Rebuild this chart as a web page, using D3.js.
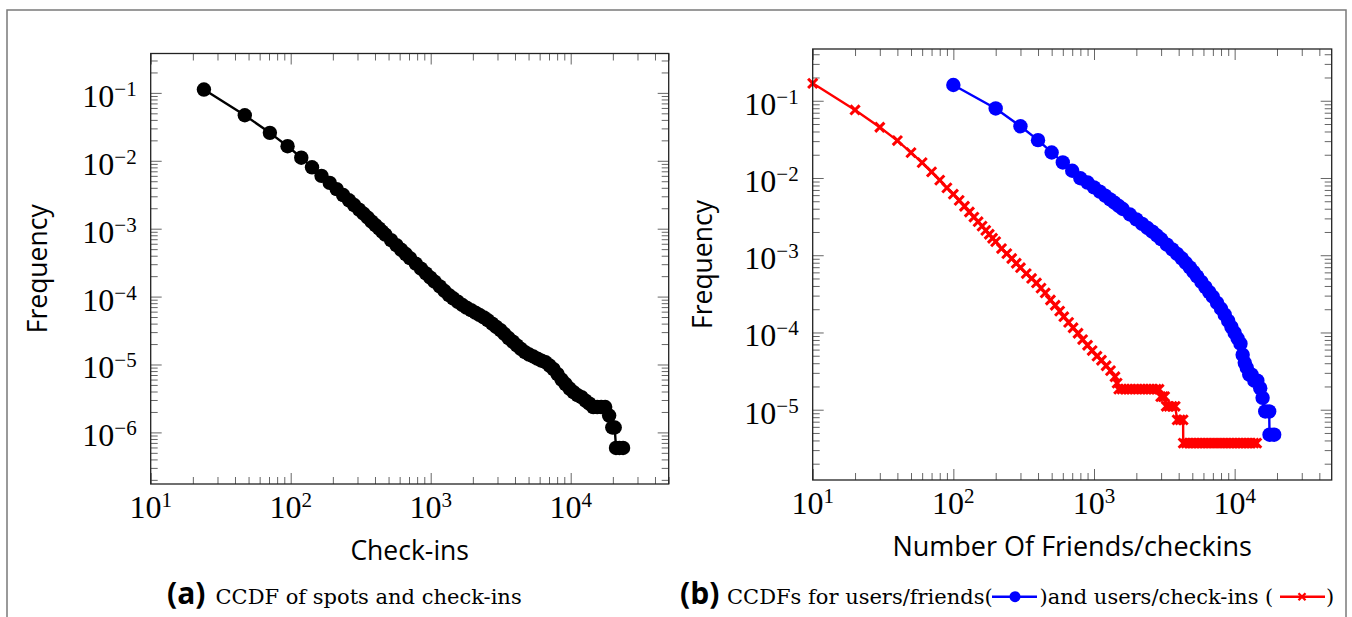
<!DOCTYPE html>
<html>
<head>
<meta charset="utf-8">
<script src="https://cdn.jsdelivr.net/npm/d3@7"></script>
<style>
  html, body { margin: 0; padding: 0; background: #fff; }
  svg { display: block; }
</style>
</head>
<body>
<svg id="fig" width="1352" height="617"></svg>
<script>
// ---- (a) CCDF of spots and check-ins ----
const spotCheckins = [24,47,71,95,119,142,166,190,213,237,261,284,308,332,356,379,403,427,450,474,
  521,569,616,664,711,782,853,924,995,1067,1161,1256,1351,1446,1564,1683,1801,1943,2086,2228,
  2394,2560,2749,2939,3152,3365,3602,3863,4124,4408,4716,5048,5404,5783,6186,6612,7063,7537,8058,8603,
  9196,9812,10475,11186,11945,12751,13604,14504,15476,16519,17633,18818,19813,20619,21069,22278,23653];
const spotFreq = [0.112,0.0468,0.0258,0.0164,0.0111,0.00802,0.0060,0.00473,0.00383,0.00313,
  0.00262,0.00223,0.00191,0.00166,0.00145,0.00127,0.00113,0.00101,0.000906,0.000818,
  0.000679,0.000573,0.000489,0.000423,0.000369,0.000306,0.000258,0.000220,0.000190,0.000166,
  0.000141,0.000121,0.000105,9.44e-5,8.38e-5,7.52e-5,6.89e-5,6.32e-5,5.81e-5,5.37e-5,
  4.94e-5,4.48e-5,4.00e-5,3.58e-5,3.20e-5,2.81e-5,2.45e-5,2.17e-5,1.91e-5,1.70e-5,
  1.52e-5,1.40e-5,1.31e-5,1.22e-5,1.14e-5,1.08e-5,9.64e-6,8.55e-6,7.22e-6,6.00e-6,
  5.15e-6,4.42e-6,3.92e-6,3.54e-6,3.31e-6,2.94e-6,2.65e-6,2.36e-6,2.36e-6,2.36e-6,2.36e-6,
  1.77e-6,1.18e-6,1.18e-6,5.9e-7,5.9e-7,5.9e-7];

// ---- (b) users/friends ----
const friendCount = [100,200,300,400,500,600,700,800,900,1000,1100,1200,1300,1400,1500,1600,
  1800,2000,2200,2400,2600,2800,3000,3300,3600,3900,4200,4500,4800,5100,5400,5800,6200,6600,7000,
  7500,8000,8500,9000,9500,10000,10500,11000,11400,11800,12200,12700,13200,13800,14500,15200,
  15800,16500,17600,17700,19100];
const friendFreq = [0.160,0.0795,0.0468,0.0309,0.0214,0.0159,0.0124,0.00993,0.00873,0.00755,
  0.00667,0.00592,0.00528,0.00478,0.00434,0.00397,0.00337,0.00291,0.00255,0.00225,0.00202,0.00180,
  0.00161,0.00137,0.00119,0.00104,0.000912,0.000793,0.000695,0.000608,0.000532,0.000452,0.000386,
  0.000333,0.000290,0.000241,0.000203,0.000170,0.000141,0.000117,9.86e-5,8.36e-5,7.16e-5,5.14e-5,
  4.05e-5,3.49e-5,2.85e-5,2.85e-5,2.375e-5,2.375e-5,1.9e-5,1.425e-5,9.5e-6,9.5e-6,4.75e-6,4.75e-6];

// ---- (b) users/check-ins ----
const userCheckins = [10,20,30,40,50,60,70,80,90,100,110,120,130,140,150,160,170,180,190,200,
  220,240,260,280,300,330,360,390,420,450,490,530,570,610,660,710,770,830,900,970,
  1050,1130,1220,1310,1410,1460,
  1500,1580,1660,1750,1840,1940,2040,2150,2260,2380,2500,2630,2770,2900,
  2980,3100,3180,3260,3420,3590,3780,3900,4100,4300,
  4310,4530,4750,4980,5220,5480,5750,6030,6330,6640,6970,7310,7670,8050,8450,8860,9300,9760,
  10240,10740,11270,11830,12410,13020,13670,14340];
const userCheckinFreq = [0.168,0.076,0.0454,0.0305,0.0213,0.0158,0.0120,0.00938,0.00745,0.00617,
  0.00513,0.00431,0.00363,0.00312,0.00272,0.00238,0.00210,0.00187,0.00166,0.00150,
  0.00122,0.00105,0.000908,0.000787,0.000690,0.000579,0.000501,0.000438,0.000375,0.000325,
  0.000263,0.000225,0.000189,0.000160,0.000135,0.000115,9.77e-5,8.10e-5,6.83e-5,5.83e-5,
  4.93e-5,4.37e-5,3.71e-5,3.21e-5,2.67e-5,2.21e-5,
  1.845e-5,1.845e-5,1.845e-5,1.845e-5,1.845e-5,1.845e-5,1.845e-5,1.845e-5,1.845e-5,1.845e-5,
  1.845e-5,1.845e-5,1.845e-5,1.845e-5,
  1.476e-5,1.476e-5,1.476e-5,1.107e-5,1.107e-5,1.107e-5,1.107e-5,7.38e-6,7.38e-6,7.38e-6,
  3.69e-6,3.69e-6,3.69e-6,3.69e-6,3.69e-6,3.69e-6,3.69e-6,3.69e-6,3.69e-6,3.69e-6,3.69e-6,3.69e-6,
  3.69e-6,3.69e-6,3.69e-6,3.69e-6,3.69e-6,3.69e-6,3.69e-6,3.69e-6,3.69e-6,3.69e-6,3.69e-6,3.69e-6,
  3.69e-6,3.69e-6];

// Axis tick labels (powers of ten)
const xTickExps = [1, 2, 3, 4];
const yTickExpsA = [-1, -2, -3, -4, -5, -6];
const yTickExpsB = [-1, -2, -3, -4, -5];

const TICK_FONT = "'Liberation Serif', 'Times New Roman', serif";
const SANS = "'Open Sans', 'Noto Sans', sans-serif";
const CAPTION_FONT = "'DejaVu Serif', serif";

const svg = d3.select("#fig");

// outer frame
svg.append("rect")
  .attr("x", 7).attr("y", 10).attr("width", 1339).attr("height", 640)
  .attr("fill", "none").attr("stroke", "#7a7a7a").attr("stroke-width", 1.5);

// powers-of-ten label: "10" with a raised exponent
function powLabel(g, x, y, exp, anchor) {
  const t = g.append("text")
    .attr("x", x).attr("y", y)
    .attr("text-anchor", anchor)
    .attr("font-family", TICK_FONT)
    .attr("fill", "#000");
  t.append("tspan").attr("font-size", 32).text("10");
  t.append("tspan").attr("font-size", 21).attr("dy", -11)
    .text(exp < 0 ? "\u2212" + (-exp) : String(exp));
}

function minorValues(domain) {
  const lo = Math.floor(Math.log10(domain[0])), hi = Math.ceil(Math.log10(domain[1]));
  const out = [];
  for (let e = lo; e <= hi; e++) {
    for (let m = 2; m <= 9; m++) {
      const v = m * Math.pow(10, e);
      if (v >= domain[0] * 1.0001 && v <= domain[1] * 0.9999) out.push(v);
    }
  }
  return out;
}

function drawPanel(cfg) {
  const g = svg.append("g").attr("transform", `translate(${cfg.left},${cfg.top})`);
  const w = cfg.width, h = cfg.height;
  const x = d3.scaleLog().domain(cfg.xDomain).range([0, w]);
  const y = d3.scaleLog().domain(cfg.yDomain).range([h, 0]);

  const xMaj = xTickExps.map(e => Math.pow(10, e));
  const yMaj = cfg.yExps.map(e => Math.pow(10, e));
  const xMin = minorValues(cfg.xDomain);
  const yMin = minorValues(cfg.yDomain);

  const tickStyle = sel => {
    sel.select(".domain").remove();
    sel.selectAll(".tick line").attr("stroke", "#555").attr("stroke-width", 0.9);
    sel.selectAll(".tick text").remove();
  };
  const axes = [
    [d3.axisBottom, `translate(0,${h})`, x],
    [d3.axisTop, `translate(0,0)`, x],
    [d3.axisLeft, `translate(0,0)`, y],
    [d3.axisRight, `translate(${w},0)`, y]
  ];
  axes.forEach(([maker, tr, sc]) => {
    const isX = sc === x;
    g.append("g").attr("transform", tr)
      .call(maker(sc).tickValues(isX ? xMin : yMin).tickSize(-7).tickFormat(""))
      .call(tickStyle);
    g.append("g").attr("transform", tr)
      .call(maker(sc).tickValues(isX ? xMaj : yMaj).tickSize(-11).tickFormat(""))
      .call(tickStyle);
  });

  // tick labels
  xTickExps.forEach(e => powLabel(g, x(Math.pow(10, e)), h + 34, e, "middle"));
  cfg.yExps.forEach(e => powLabel(g, -14, y(Math.pow(10, e)) + 14, e, "end"));

  // axis labels
  g.append("text")
    .attr("x", w / 2).attr("y", h + cfg.xLabelDy)
    .attr("text-anchor", "middle")
    .attr("font-family", SANS).attr("font-size", cfg.xLabelSize)
    .text(cfg.xLabel);
  g.append("text")
    .attr("transform", `translate(${cfg.yLabelX},${h / 2}) rotate(-90)`)
    .attr("text-anchor", "middle")
    .attr("font-family", SANS).attr("font-size", 26.5)
    .text("Frequency");

  // data
  const plot = g.append("g");
  cfg.series.forEach(s => {
    const pts = s.xs.map((v, i) => [v, s.ys[i]]);
    plot.append("path")
      .datum(pts)
      .attr("fill", "none")
      .attr("stroke", s.color)
      .attr("stroke-width", 2.4)
      .attr("stroke-linejoin", "round")
      .attr("d", d3.line().x(d => x(d[0])).y(d => y(d[1])));
    if (s.marker === "circle") {
      plot.append("g").selectAll("circle").data(pts).join("circle")
        .attr("cx", d => x(d[0])).attr("cy", d => y(d[1]))
        .attr("r", 7.2).attr("fill", s.color);
    } else {
      const k = 4.6;
      plot.append("g").selectAll("path").data(pts).join("path")
        .attr("d", d => {
          const cx = x(d[0]), cy = y(d[1]);
          return `M${cx - k},${cy - k}L${cx + k},${cy + k}M${cx - k},${cy + k}L${cx + k},${cy - k}`;
        })
        .attr("stroke", s.color).attr("stroke-width", 3).attr("fill", "none");
    }
  });

  // axis box
  g.append("rect")
    .attr("x", 0).attr("y", 0).attr("width", w).attr("height", h)
    .attr("fill", "none").attr("stroke", "#222").attr("stroke-width", 1.3);
}

drawPanel({
  left: 150.7, top: 53.5, width: 518, height: 430.5,
  xDomain: [10, Math.pow(10, 4.7)],
  yDomain: [Math.pow(10, -6.76), Math.pow(10, -0.42)],
  yExps: yTickExpsA,
  xLabel: "Check-ins", xLabelDy: 76, xLabelSize: 26.5,
  yLabelX: -104,
  series: [{ xs: spotCheckins, ys: spotFreq, color: "#000", marker: "circle" }]
});

drawPanel({
  left: 812.7, top: 49, width: 519, height: 431,
  xDomain: [10, Math.pow(10, 4.69)],
  yDomain: [Math.pow(10, -5.91), Math.pow(10, -0.33)],
  yExps: yTickExpsB,
  xLabel: "Number Of Friends/checkins", xLabelDy: 76, xLabelSize: 27,
  yLabelX: -101,
  series: [
    { xs: userCheckins, ys: userCheckinFreq, color: "#ff0000", marker: "cross" },
    { xs: friendCount, ys: friendFreq, color: "#0000ff", marker: "circle" }
  ]
});

// ---- captions ----
const capY = 604;
function capText(x, str, bold) {
  svg.append("text")
    .attr("x", x).attr("y", capY)
    .attr("font-family", bold ? SANS : CAPTION_FONT)
    .attr("font-weight", bold ? 700 : 400)
    .attr("font-size", bold ? 30 : 21)
    .text(str);
}
capText(167, "(a)", true);
capText(215.5, "CCDF of spots and check-ins", false);
capText(680, "(b)", true);
capText(727, "CCDFs for users/friends(", false);
capText(1039.5, ")and users/check-ins (", false);
capText(1326, ")", false);

// legend samples inside caption (b)
const legY = 596.7;
svg.append("line").attr("x1", 992).attr("x2", 1037).attr("y1", legY).attr("y2", legY)
  .attr("stroke", "#0000ff").attr("stroke-width", 2.5);
svg.append("circle").attr("cx", 1015).attr("cy", legY).attr("r", 5.5).attr("fill", "#0000ff");
svg.append("line").attr("x1", 1280).attr("x2", 1325).attr("y1", legY).attr("y2", legY)
  .attr("stroke", "#ff0000").attr("stroke-width", 2.5);
svg.append("path")
  .attr("d", `M${1302 - 3.5},${legY - 3.5}L${1302 + 3.5},${legY + 3.5}M${1302 - 3.5},${legY + 3.5}L${1302 + 3.5},${legY - 3.5}`)
  .attr("stroke", "#ff0000").attr("stroke-width", 2.3);
</script>
</body>
</html>
